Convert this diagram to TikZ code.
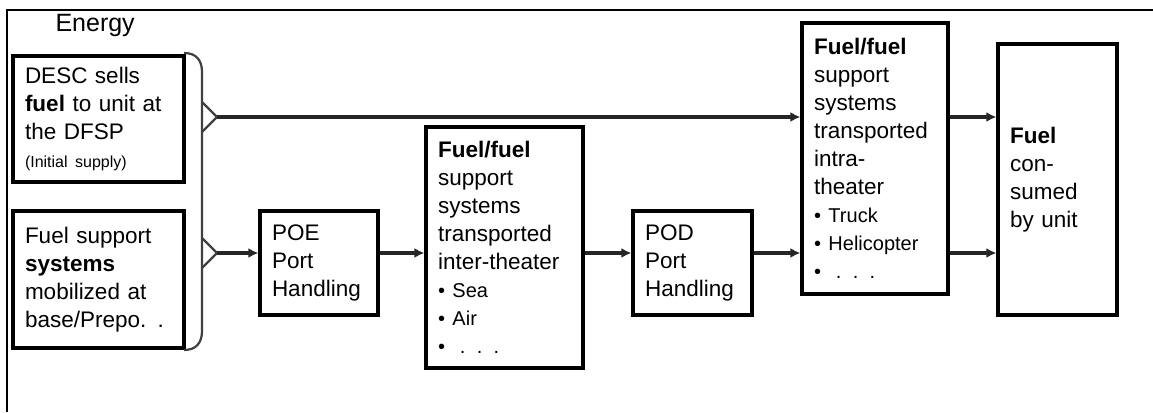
\documentclass[tikz,border=0pt]{standalone}
\usepackage{fontspec}
\setmainfont{Liberation Sans}
\usetikzlibrary{arrows.meta}

\newcommand\boxfont{\fontsize{22.5}{28}\selectfont}
\newcommand\itemfont{\fontsize{20}{28}\selectfont}
\newcommand\notefont{\fontsize{16}{28}\selectfont}

\begin{document}
\begin{tikzpicture}[x=1pt, y=-1pt,
  stagebox/.style={draw, line width=3.2pt, align=left, inner xsep=12pt, inner ysep=0pt, font=\boxfont},
  flow/.style={draw=black!85, line width=3.2pt, -{Latex[length=10pt,width=10pt]}},
  bracket/.style={draw=black!75, line width=2.2pt}]
\useasboundingbox (0,0) rectangle (1153,412);
\draw[line width=2.2pt] (7,412) -- (7,10) -- (1153,10);
\node[anchor=west, font=\fontsize{25}{28}\selectfont] (title) at (52,25) {Energy};
% left column
\node[stagebox, text width=147pt, minimum height=126pt] (desc) at (98.5,119) {DESC sells\\\textbf{fuel} to unit at\\the DFSP\\{\notefont (Initial supply)}};
\node[stagebox, text width=147pt, minimum height=137pt] (mob) at (98.5,279.5) {Fuel support\\\textbf{systems}\\mobilized at\\base/Prepo. .};
\draw[bracket] (184,53) .. controls (196,53) and (202,60) .. (202,72) -- (202,331) .. controls (202,343) and (196,350) .. (184,350);
\draw[bracket] (202,102) -- (217,117) -- (202,132); \draw[bracket] (202,238) -- (217,253) -- (202,268);
\coordinate (tipA) at (217,117); \coordinate (tipB) at (217,253);
% chain of stages
\node[stagebox, text width=94pt, minimum height=104pt] (poe) at (319,263) {POE\\Port\\Handling};
\node[stagebox, text width=133pt, minimum height=241pt] (inter) at (504.5,247.5) {\textbf{Fuel/fuel}\\support\\systems\\transported\\inter-theater\\{\itemfont • Sea}\\{\itemfont • Air}\\{\itemfont •\ \ . . .}};
\node[stagebox, text width=95pt, minimum height=104pt] (pod) at (692.5,263) {POD\\Port\\Handling};
\node[stagebox, text width=122pt, minimum height=271pt] (intra) at (875,158.5) {\textbf{Fuel/fuel}\\support\\systems\\transported\\intra-\\theater\\{\itemfont • Truck}\\{\itemfont • Helicopter}\\{\itemfont •\ \ . . .}};
\node[stagebox, text width=95pt, minimum height=271pt] (cons) at (1057.5,179.5) {\textbf{Fuel}\\con-\\sumed\\by unit};
% connectors
\draw[flow] (tipA) -- (intra.west |- tipA); \draw[flow] (intra.east |- tipA) -- (cons.west |- tipA);
\draw[flow] (tipB) -- (poe.west |- tipB); \draw[flow] (poe.east |- tipB) -- (inter.west |- tipB);
\draw[flow] (inter.east |- tipB) -- (pod.west |- tipB); \draw[flow] (pod.east |- tipB) -- (intra.west |- tipB);
\draw[flow] (intra.east |- tipB) -- (cons.west |- tipB);
\end{tikzpicture}
\end{document}
